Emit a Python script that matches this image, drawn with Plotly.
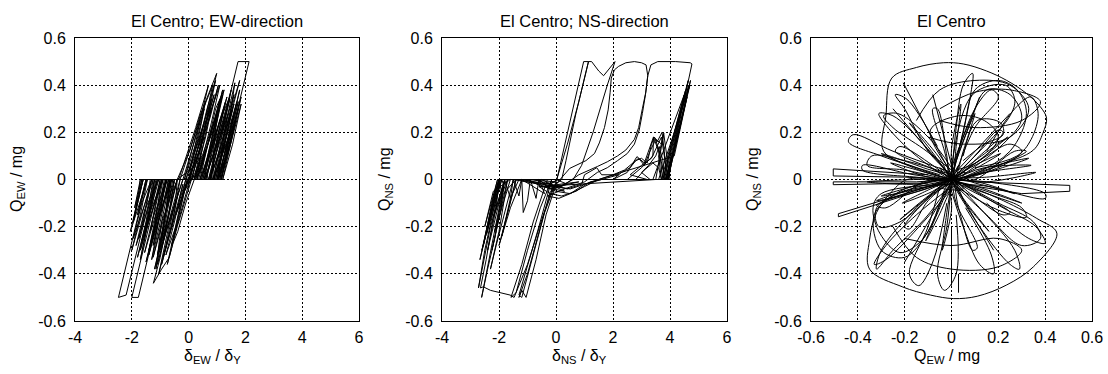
import plotly.graph_objects as go

FONT = "Liberation Sans, Arial, Helvetica, sans-serif"

# ---------------- tick labels ----------------
disp_ticks = [-4, -2, 0, 2, 4, 6]
disp_ticktext = ["-4", "-2", "0", "2", "4", "6"]
q_ticks = [-0.6, -0.4, -0.2, 0, 0.2, 0.4, 0.6]
q_ticktext = ["-0.6", "-0.4", "-0.2", "0", "0.2", "0.4", "0.6"]

# ---------------- panel 1 : EW direction (delta/deltaY, Q/mg) ----------------
ew_origin = [(0.00, 0.00), (0.40, 0.13), (-0.30, -0.10), (0.55, 0.18), (-0.45, -0.15),
             (0.30, 0.10), (-0.20, -0.07), (0.15, 0.05)]
ew_cycle_1 = [(-0.40, 0.00), (0.05, 0.125), (0.40, 0.27), (0.75, 0.38), (0.99, 0.45),
              (0.70, 0.30), (0.35, 0.10), (0.20, 0.00), (-0.10, -0.10), (-0.38, -0.22),
              (-0.55, -0.27), (-0.68, -0.33), (-0.95, -0.38), (-1.24, -0.44), (-1.00, -0.33),
              (-0.70, -0.15), (-0.50, 0.00)]
ew_up_band = [(-0.35, 0.00), (0.25, 0.22), (0.70, 0.40), (0.40, 0.25), (0.00, 0.00),
              (0.90, 0.36), (0.55, 0.20), (0.10, 0.00), (1.05, 0.40), (0.75, 0.26), (-0.10, 0.00),
              (0.80, 0.34), (0.50, 0.18), (0.30, 0.00), (1.20, 0.36), (0.90, 0.22), (0.20, 0.00),
              (1.10, 0.32), (0.80, 0.16), (0.45, 0.00), (1.35, 0.35), (1.05, 0.20), (0.40, 0.00),
              (1.25, 0.30), (0.95, 0.14), (0.60, 0.00), (1.45, 0.34), (1.15, 0.19), (0.55, 0.00),
              (1.40, 0.28), (1.10, 0.12), (0.75, 0.00), (1.55, 0.30), (1.25, 0.15), (0.70, 0.00),
              (1.60, 0.36), (1.30, 0.20), (0.90, 0.00), (1.70, 0.33), (1.40, 0.18), (0.85, 0.00),
              (1.65, 0.25), (1.35, 0.10), (1.00, 0.00), (1.75, 0.30), (1.45, 0.14), (1.05, 0.00),
              (1.80, 0.38), (1.50, 0.22), (1.15, 0.00), (1.85, 0.32), (1.55, 0.15), (1.20, 0.00)]
ew_up_band_2 = [(-0.30, 0.00), (0.20, 0.18), (0.60, 0.33), (0.30, 0.17), (-0.15, 0.00),
                (0.45, 0.28), (0.85, 0.40), (0.55, 0.24), (0.05, 0.00), (0.65, 0.30),
                (0.95, 0.42), (0.70, 0.28), (0.15, 0.02), (0.25, 0.00), (0.75, 0.28),
                (1.10, 0.40), (0.80, 0.24), (0.35, 0.02), (-0.20, 0.00), (0.30, 0.20),
                (0.55, 0.30), (0.35, 0.18), (0.00, 0.03), (0.50, 0.22), (0.80, 0.30),
                (0.60, 0.18), (0.20, 0.00)]
ew_low_band = [(0.10, 0.00), (-0.40, -0.20), (-0.75, -0.36), (-0.45, -0.20), (-0.10, 0.00),
               (-0.90, -0.33), (-0.55, -0.17), (-0.30, 0.00), (-1.10, -0.36), (-0.75, -0.20),
               (-0.20, 0.00), (-1.00, -0.30), (-0.70, -0.15), (-0.50, 0.00), (-1.25, -0.33),
               (-0.95, -0.18), (-0.40, 0.00), (-1.20, -0.38), (-0.90, -0.22), (-0.65, 0.00),
               (-1.40, -0.32), (-1.10, -0.17), (-0.60, 0.00), (-1.35, -0.28), (-1.05, -0.13),
               (-0.80, 0.00), (-1.55, -0.31), (-1.25, -0.16), (-0.75, 0.00), (-1.50, -0.35),
               (-1.20, -0.20), (-0.95, 0.00), (-1.70, -0.30), (-1.40, -0.15), (-0.90, 0.00),
               (-1.65, -0.26), (-1.35, -0.11), (-1.10, 0.00), (-1.85, -0.28), (-1.55, -0.13),
               (-1.05, 0.00), (-1.80, -0.33), (-1.50, -0.18), (-1.25, 0.00), (-1.95, -0.25),
               (-1.65, -0.10), (-1.30, 0.00), (-2.00, -0.30), (-1.70, -0.15), (-1.45, 0.00),
               (-2.05, -0.22), (-1.80, -0.09), (-1.60, 0.00), (-1.95, -0.18), (-1.75, -0.05),
               (-1.70, 0.00)]
ew_low_band_2 = [(0.05, 0.00), (-0.30, -0.15), (-0.60, -0.28), (-0.35, -0.16), (-0.05, 0.00),
                 (-0.45, -0.20), (-0.80, -0.32), (-0.50, -0.18), (-0.20, -0.02), (-0.55, -0.18),
                 (-0.95, -0.36), (-0.65, -0.22), (-0.35, -0.05), (-0.70, -0.20), (-1.05, -0.40),
                 (-0.80, -0.28), (-0.45, -0.08), (-0.40, 0.00)]
ew_pos_a = [(0.55, 0.00), (1.15, 0.34), (1.05, 0.28), (0.70, 0.05), (0.65, 0.00), (0.40, 0.00),
            (0.95, 0.30), (1.25, 0.38), (0.95, 0.22), (0.80, 0.00), (0.50, 0.00), (1.30, 0.33),
            (0.90, 0.12), (0.85, 0.00), (1.00, 0.00), (1.40, 0.22), (1.63, 0.41), (1.35, 0.26),
            (1.05, 0.05), (1.00, 0.00)]
ew_neg_a = [(-0.55, 0.00), (-0.85, -0.18), (-1.10, -0.32), (-0.85, -0.20), (-0.60, -0.04),
            (-0.80, 0.00), (-1.10, -0.20), (-1.30, -0.34), (-1.00, -0.18), (-0.75, -0.02),
            (-0.70, 0.00), (-1.00, 0.00), (-1.35, -0.22), (-1.10, -0.08), (-0.95, 0.00),
            (-1.20, 0.00), (-1.55, -0.24), (-1.25, -0.06), (-1.20, 0.00)]
ew_pos_b = [(0.60, 0.00), (1.10, 0.25), (1.45, 0.35), (1.20, 0.22), (0.80, 0.02), (0.75, 0.00),
            (0.95, 0.00), (1.50, 0.30), (1.80, 0.42), (1.50, 0.28), (1.10, 0.06), (1.05, 0.00),
            (1.20, 0.00), (1.60, 0.22), (1.85, 0.35), (1.45, 0.16), (1.15, 0.00)]
ew_big_neg_1 = [(-1.20, 0.00), (-1.70, -0.25), (-2.20, -0.49), (-2.47, -0.50), (-1.97, -0.25),
                (-1.47, 0.00), (-1.60, 0.00), (-1.95, -0.18), (-1.70, -0.04), (-1.65, 0.00)]
ew_big_pos = [(0.74, 0.00), (1.24, 0.25), (1.74, 0.50), (2.13, 0.50), (1.63, 0.25), (1.13, 0.00)]
ew_big_neg_2 = [(-1.00, 0.00), (-1.50, -0.25), (-2.00, -0.50), (-1.77, -0.50), (-1.27, -0.25),
                (-0.77, 0.00), (-0.90, 0.00), (-1.15, -0.15), (-1.40, -0.30), (-1.05, -0.12),
                (-0.85, 0.00)]
ew_pos_c = [(0.30, 0.00), (0.75, 0.18), (1.10, 0.34), (0.85, 0.20), (0.55, 0.02), (0.50, 0.00),
            (0.70, 0.00), (1.20, 0.25), (1.50, 0.38), (1.30, 0.26), (0.95, 0.05), (0.90, 0.00),
            (1.10, 0.00), (1.55, 0.24), (1.75, 0.33), (1.40, 0.15), (1.15, 0.00)]
ew_neg_c = [(-0.40, 0.00), (-0.70, -0.15), (-0.90, -0.26), (-0.70, -0.14), (-0.45, -0.02),
            (-0.60, 0.00), (-0.90, -0.20), (-1.05, -0.30), (-0.80, -0.12), (-0.60, 0.00),
            (-0.70, 0.00), (-1.00, -0.15), (-1.25, -0.28), (-1.00, -0.14), (-0.80, 0.00),
            (-1.30, 0.00), (-1.60, -0.18), (-1.75, -0.25), (-1.45, -0.08), (-1.35, 0.00)]
ew_pos_d = [(0.35, 0.00), (0.80, 0.20), (1.20, 0.38), (0.90, 0.22), (0.60, 0.03), (0.55, 0.00),
            (0.85, 0.00), (1.30, 0.22), (1.60, 0.32), (1.35, 0.20), (1.00, 0.02), (0.95, 0.00),
            (1.05, 0.00), (1.55, 0.26), (1.25, 0.10), (1.10, 0.00)]
ew_neg_d = [(-0.65, 0.00), (-0.95, -0.18), (-1.15, -0.38), (-0.95, -0.26), (-0.70, -0.06),
            (-0.65, 0.00), (-1.10, 0.00), (-1.45, -0.20), (-1.70, -0.34), (-1.40, -0.16),
            (-1.15, 0.00), (-1.50, 0.00), (-1.80, -0.15), (-1.55, -0.03), (-1.50, 0.00),
            (-1.70, 0.00), (-1.90, -0.12), (-1.65, 0.00)]
ew_decay = [(0.25, 0.00), (0.60, 0.12), (0.40, 0.03), (-0.10, -0.02), (-0.35, -0.12),
            (0.10, 0.04), (0.45, 0.10), (0.20, 0.02), (-0.20, -0.06), (0.05, 0.01)]

# ---------------- panel 2 : NS direction ----------------
ns_start = [(0.00, 0.00), (0.40, -0.02), (-0.30, -0.04), (0.80, -0.01), (-0.50, -0.03),
            (0.30, -0.05), (-0.20, -0.02)]
ns_neg_1 = [(-0.80, 0.00), (-1.50, 0.00), (-2.00, 0.00), (-2.35, -0.18), (-2.67, -0.34),
            (-2.45, -0.22), (-2.10, -0.04), (-2.00, 0.00)]
ns_pos_1 = [(-0.60, 0.00), (-0.30, -0.03), (0.03, 0.00), (0.50, 0.25), (0.97, 0.50),
            (1.14, 0.50), (0.70, 0.28), (0.35, 0.08), (0.20, 0.00)]
ns_neg_2 = [(-0.10, -0.03), (-0.50, -0.17), (-1.00, -0.36), (-1.47, -0.50), (-1.61, -0.49),
            (-2.00, -0.48), (-2.30, -0.47), (-2.55, -0.455), (-2.65, -0.46), (-2.45, -0.34),
            (-2.20, -0.16), (-1.95, 0.00)]
ns_comb = [(-2.00, 0.00), (-1.90, -0.06), (-1.80, 0.00), (-1.60, -0.08), (-1.50, 0.00),
           (-1.30, -0.07), (-1.20, 0.00), (-1.15, -0.14), (-1.00, -0.09), (-0.90, 0.00),
           (-0.70, -0.08), (-0.60, 0.00), (-0.40, -0.06)]
ns_pos_2 = [(-1.20, 0.00), (-0.40, -0.02), (0.00, -0.01), (0.40, 0.15), (0.80, 0.33),
            (1.14, 0.50), (1.25, 0.50), (1.50, 0.46), (1.67, 0.44), (2.07, 0.50), (1.80, 0.40),
            (1.30, 0.20), (0.90, 0.06), (0.74, 0.03), (0.60, 0.00)]
ns_neg_3 = [(-0.20, -0.05), (-0.60, -0.22), (-1.00, -0.40), (-1.30, -0.50), (-1.20, -0.47),
            (-1.05, -0.50), (-0.70, -0.34), (-0.35, -0.15), (0.00, -0.02)]
ns_loop_1 = [(0.48, 0.047), (1.05, 0.08), (1.35, 0.11), (1.52, 0.155), (1.70, 0.22),
             (1.83, 0.295), (1.90, 0.37), (1.94, 0.43), (2.05, 0.465), (2.20, 0.48),
             (2.45, 0.495), (2.75, 0.50), (3.00, 0.495), (3.16, 0.486), (3.22, 0.44),
             (3.15, 0.37), (3.03, 0.30), (2.90, 0.22), (2.75, 0.17), (2.45, 0.125),
             (2.16, 0.10), (1.80, 0.075), (1.45, 0.055), (0.80, 0.02), (0.20, -0.03)]
ns_neg_4 = [(-0.50, -0.03), (-1.00, 0.00), (-1.70, 0.00), (-2.20, -0.16), (-1.85, -0.02),
            (-1.90, 0.00), (-2.43, -0.23), (-2.05, -0.03), (-1.95, 0.00), (-2.60, -0.30),
            (-2.20, -0.08), (-2.00, 0.00), (-1.80, 0.00), (-2.30, -0.20), (-2.72, -0.46),
            (-2.50, -0.30), (-2.05, -0.05), (-1.90, 0.00)]
ns_left_fan = [(-1.50, 0.00), (-2.10, -0.28), (-2.30, -0.38), (-2.00, -0.22), (-1.70, 0.00),
               (-2.25, -0.30), (-1.95, -0.14), (-1.80, 0.00), (-2.40, -0.30), (-2.10, -0.12),
               (-2.00, 0.00), (-2.55, -0.28), (-2.25, -0.10), (-2.05, 0.00), (-2.50, -0.20),
               (-2.20, -0.05), (-1.60, 0.00), (-2.15, -0.22), (-1.85, -0.06), (-1.40, 0.00),
               (-1.90, -0.24), (-1.60, -0.08), (-1.30, 0.00)]
ns_low_lines = [(-0.30, 0.00), (-0.80, -0.18), (-1.20, -0.36), (-1.58, -0.50), (-1.40, -0.48),
                (-1.00, -0.30), (-0.55, -0.12), (-0.15, 0.00), (-0.60, -0.20), (-1.10, -0.40),
                (-1.30, -0.49), (-1.20, -0.50), (-0.80, -0.32), (-0.40, -0.14), (0.00, -0.01),
                (-1.00, 0.00), (-1.80, 0.00), (-2.61, -0.50), (-2.40, -0.38), (-2.15, -0.25),
                (-1.95, -0.10), (-1.80, 0.00)]
ns_band = [(-1.50, 0.00), (-0.60, -0.02), (0.00, -0.05), (0.50, -0.06), (1.00, -0.03),
           (1.50, 0.00), (2.50, 0.00), (3.00, 0.05), (3.40, 0.10), (3.42, 0.18), (3.60, 0.12),
           (3.85, 0.00)]
ns_band_2 = [(-0.50, 0.00), (0.00, -0.03), (0.40, -0.04), (0.90, -0.02), (1.00, 0.02),
             (1.43, 0.05), (1.60, 0.02), (1.80, 0.02), (2.20, 0.02), (1.60, 0.00), (1.20, -0.01),
             (0.70, -0.05), (0.20, -0.07), (-0.20, -0.06), (-0.60, -0.03)]
ns_loop_2 = [(3.50, 0.00), (2.50, 0.00), (1.60, 0.00), (1.00, -0.02), (0.50, -0.06),
             (0.10, -0.08), (-0.30, -0.07), (0.30, -0.04), (1.00, -0.01), (1.45, 0.03),
             (1.80, 0.05), (2.16, 0.08), (2.50, 0.11), (2.75, 0.15), (2.92, 0.21), (3.03, 0.28),
             (3.14, 0.36), (3.22, 0.44), (3.33, 0.486), (3.57, 0.50), (4.20, 0.50),
             (4.71, 0.495), (4.77, 0.49), (4.40, 0.28), (4.10, 0.12), (3.89, 0.00)]
ns_right_fan = [(3.50, 0.00), (3.78, 0.195), (3.60, 0.10), (3.70, 0.00), (4.64, 0.42),
                (4.20, 0.18), (3.95, 0.00), (3.80, 0.00), (4.55, 0.38), (4.10, 0.14),
                (3.85, 0.00), (3.60, 0.00), (4.70, 0.40), (4.25, 0.18), (3.90, 0.00),
                (2.00, 0.00), (2.50, 0.03), (2.84, 0.097), (3.10, 0.07), (3.42, 0.18),
                (3.70, 0.15), (3.78, 0.195), (3.90, 0.10), (4.00, 0.00)]
ns_right_fan_2 = [(3.40, 0.00), (4.00, 0.20), (4.50, 0.36), (4.20, 0.22), (3.75, 0.00),
                  (4.30, 0.25), (4.66, 0.40), (4.30, 0.20), (3.85, 0.00), (4.40, 0.26),
                  (4.72, 0.42), (4.35, 0.22), (3.92, 0.00), (4.00, 0.05), (4.60, 0.35),
                  (4.15, 0.10)]
ns_bumps = [(1.50, 0.00), (2.00, 0.02), (2.40, 0.04), (2.70, 0.07), (2.90, 0.09), (3.10, 0.06),
            (3.30, 0.12), (3.50, 0.17), (3.65, 0.10), (3.75, 0.00), (3.20, 0.00), (2.60, 0.02),
            (3.00, 0.06), (3.35, 0.09), (3.55, 0.14), (3.70, 0.18), (3.85, 0.06), (3.95, 0.00)]
ns_bumps_2 = [(2.00, 0.00), (2.30, 0.03), (2.60, 0.05), (2.80, 0.08), (3.00, 0.09), (3.20, 0.07),
              (3.35, 0.15), (3.45, 0.18), (3.55, 0.16), (3.65, 0.18), (3.72, 0.20), (3.80, 0.12),
              (3.88, 0.00), (3.30, 0.00), (3.00, 0.03), (3.25, 0.06), (3.50, 0.10), (3.62, 0.14),
              (3.75, 0.08), (3.80, 0.00), (2.80, 0.00), (3.10, 0.04), (3.40, 0.07), (3.60, 0.05),
              (3.70, 0.00)]
ns_end = [(1.50, 0.00), (0.50, -0.04), (-0.50, -0.02), (-1.40, 0.00), (-2.00, -0.28),
          (-1.60, -0.12), (-1.20, 0.00), (-0.30, -0.02), (0.20, -0.03)]

# ---------------- panel 3 : Q_EW vs Q_NS ----------------
bi_star = [(0.00, 0.00), (0.15, 0.05), (0.33, 0.09), (0.15, 0.03), (0.01, 0.00),
           (-0.14, -0.04), (-0.30, -0.07), (-0.13, -0.02), (0.00, 0.01),
           (0.10, 0.08), (0.24, 0.18), (0.09, 0.06), (0.00, 0.00),
           (-0.10, -0.07), (-0.22, -0.17), (-0.08, -0.06), (0.01, 0.00),
           (0.05, 0.12), (0.10, 0.28), (0.03, 0.11), (0.00, 0.00),
           (-0.05, -0.12), (-0.11, -0.26), (-0.03, -0.10), (0.00, 0.00),
           (-0.12, 0.05), (-0.30, 0.11), (-0.11, 0.03), (0.00, 0.00),
           (0.12, -0.04), (0.30, -0.10), (0.11, -0.03), (0.00, 0.00),
           (0.15, 0.01), (0.36, 0.03), (0.15, -0.01), (0.00, 0.00),
           (-0.15, 0.00), (-0.36, -0.01), (-0.15, -0.02), (0.00, 0.00),
           (0.06, -0.10), (0.16, -0.22), (0.05, -0.08), (0.00, 0.00),
           (-0.07, 0.10), (-0.18, 0.24), (-0.05, 0.09), (0.00, 0.00),
           (0.02, 0.14), (0.04, 0.32), (0.00, 0.13), (0.00, 0.00),
           (-0.02, -0.14), (-0.04, -0.30), (0.00, -0.13), (0.00, 0.00),
           (0.12, -0.02), (0.27, -0.06), (0.11, -0.01), (0.00, 0.00),
           (-0.11, 0.03), (-0.26, 0.07), (-0.10, 0.01), (0.00, 0.00),
           (0.14, 0.03), (0.34, 0.06), (0.14, 0.05), (0.00, 0.00),
           (-0.14, -0.03), (-0.32, -0.09), (-0.14, -0.05), (0.00, 0.00),
           (0.09, 0.04), (0.21, 0.11), (0.08, 0.05), (0.00, 0.00),
           (-0.09, -0.04), (-0.21, -0.10), (-0.08, -0.05), (0.00, 0.00),
           (0.10, 0.00), (0.27, 0.12), (0.32, 0.12), (0.10, 0.02), (0.00, 0.00),
           (-0.12, -0.01), (-0.28, -0.12), (-0.32, -0.11), (-0.10, -0.03), (0.00, 0.00),
           (0.08, -0.06), (0.22, -0.15), (0.25, -0.14), (0.07, -0.04), (0.00, 0.00),
           (-0.08, 0.06), (-0.22, 0.14), (-0.24, 0.12), (-0.07, 0.04), (0.00, 0.00),
           (0.03, -0.12), (0.09, -0.30), (0.11, -0.29), (0.02, -0.10), (0.00, 0.00),
           (-0.03, 0.12), (-0.08, 0.30), (-0.06, 0.30), (-0.02, 0.10), (0.00, 0.00),
           (0.16, -0.03), (0.40, -0.08), (0.40, -0.06), (0.15, -0.01), (0.00, 0.00),
           (-0.16, 0.02), (-0.38, 0.06), (-0.38, 0.04), (-0.15, 0.01), (0.00, 0.00),
           (0.12, 0.10), (0.22, 0.20), (0.20, 0.21), (0.10, 0.10), (0.00, 0.00),
           (-0.12, -0.10), (-0.20, -0.20), (-0.18, -0.21), (-0.10, -0.09), (0.00, 0.00),
           (0.03, 0.06), (-0.04, -0.07), (0.06, 0.03), (-0.06, -0.03), (0.05, -0.04),
           (-0.05, 0.05), (0.00, 0.00)]
bi_outer_top = [(0.00, 0.00), (-0.15, 0.05), (-0.29, 0.12), (-0.28, 0.27), (-0.255, 0.43),
                (-0.15, 0.475), (-0.035, 0.495), (0.05, 0.49), (0.15, 0.46), (0.236, 0.42),
                (0.32, 0.365), (0.378, 0.31), (0.406, 0.26), (0.39, 0.196), (0.35, 0.125),
                (0.20, 0.06), (0.02, 0.00)]
bi_outer_bottom = [(-0.05, 0.00), (-0.19, 0.00), (-0.263, -0.06), (-0.32, -0.14),
                   (-0.35, -0.256), (-0.35, -0.38), (-0.21, -0.455), (-0.09, -0.49),
                   (0.01, -0.505), (0.11, -0.495), (0.236, -0.447), (0.35, -0.37),
                   (0.45, -0.228), (0.364, -0.165), (0.20, -0.08), (0.00, 0.00)]
bi_loops = [
    [(0.00, 0.00), (-0.12, 0.15), (-0.25, 0.27), (-0.31, 0.28), (-0.28, 0.23), (-0.15, 0.10), (0.00, 0.00)],
    [(0.00, 0.03), (-0.25, 0.12), (-0.42, 0.19), (-0.44, 0.16), (-0.30, 0.10), (-0.05, 0.02)],
    [(0.00, 0.05), (0.08, 0.25), (0.15, 0.38), (0.25, 0.36), (0.30, 0.26), (0.22, 0.15), (0.05, 0.02)],
    [(0.00, 0.00), (0.05, 0.20), (0.10, 0.38), (0.20, 0.42), (0.28, 0.38), (0.32, 0.28), (0.25, 0.12), (0.05, 0.00)],
    [(0.00, 0.00), (0.15, 0.10), (0.25, 0.15), (0.30, 0.12), (0.22, 0.06), (0.05, 0.00)],
    [(0.00, 0.00), (0.12, -0.20), (0.25, -0.36), (0.29, -0.38), (0.27, -0.30), (0.12, -0.12), (0.00, 0.00)],
    [(0.00, 0.00), (0.20, -0.10), (0.35, -0.18), (0.38, -0.25), (0.30, -0.28), (0.15, -0.15), (0.00, 0.00)],
    [(0.00, 0.00), (-0.10, -0.15), (-0.25, -0.30), (-0.32, -0.38), (-0.30, -0.30), (-0.15, -0.12), (0.00, 0.00)],
    [(0.00, -0.02), (-0.30, -0.06), (-0.335, -0.12), (-0.305, -0.23), (-0.22, -0.31), (-0.12, -0.25), (-0.05, -0.10)],
    [(0.00, 0.00), (-0.02, -0.20), (-0.06, -0.40), (-0.03, -0.47), (0.02, -0.40), (0.02, -0.15)],
    [(0.00, 0.00), (0.02, 0.22), (0.05, 0.40), (0.09, 0.45), (0.08, 0.35), (0.03, 0.12)],
    [(-0.25, -0.20), (-0.15, -0.33), (0.00, -0.38), (0.20, -0.37), (0.30, -0.30), (0.20, -0.25), (0.00, -0.28), (-0.20, -0.25)],
    [(-0.05, 0.30), (0.10, 0.37), (0.25, 0.38), (0.38, 0.33), (0.30, 0.25), (0.10, 0.22), (-0.05, 0.25)],
    [(0.00, 0.05), (-0.10, 0.18), (-0.23, 0.28), (-0.29, 0.27), (-0.25, 0.22), (-0.12, 0.13), (0.00, 0.04)],
    [(-0.02, 0.06), (-0.09, 0.21), (0.03, 0.27), (0.14, 0.25), (0.20, 0.18), (0.12, 0.08), (0.02, 0.04)],
    [(0.05, 0.10), (0.11, 0.25), (0.21, 0.24), (0.22, 0.19), (0.14, 0.15), (0.05, 0.08)],
    [(0.00, 0.05), (0.09, 0.36), (0.23, 0.40), (0.27, 0.34), (0.25, 0.27), (0.10, 0.10)],
    [(0.10, 0.05), (0.28, 0.10), (0.34, 0.17), (0.37, 0.28), (0.34, 0.35), (0.27, 0.30), (0.15, 0.12)],
    [(0.00, -0.03), (-0.15, -0.15), (-0.28, -0.28), (-0.33, -0.36), (-0.28, -0.34), (-0.12, -0.18), (0.00, -0.04)],
    [(0.00, -0.02), (-0.20, -0.05), (-0.32, -0.12), (-0.31, -0.20), (-0.22, -0.18), (-0.08, -0.06)],
    [(0.00, -0.05), (0.05, -0.20), (0.12, -0.36), (0.18, -0.40), (0.17, -0.32), (0.06, -0.12)],
    [(0.05, -0.02), (0.22, -0.12), (0.36, -0.20), (0.40, -0.27), (0.33, -0.25), (0.15, -0.10)],
    [(-0.05, -0.03), (-0.10, -0.20), (-0.18, -0.40), (-0.14, -0.45), (-0.08, -0.35), (-0.02, -0.10)],
    [(0.02, 0.03), (0.10, 0.22), (0.20, 0.35), (0.17, 0.38), (0.10, 0.30), (0.01, 0.06)],
    [(0.02, 0.00), (-0.10, 0.12), (-0.20, 0.30), (-0.24, 0.36), (-0.19, 0.34), (-0.06, 0.14)],
    [(0.00, 0.02), (-0.20, 0.08), (-0.34, 0.10), (-0.36, 0.06), (-0.20, 0.04), (-0.02, 0.00)],
    [(0.00, -0.01), (0.18, -0.07), (0.30, -0.12), (0.32, -0.16), (0.20, -0.13), (0.02, -0.03)],
    [(-0.05, 0.00), (-0.22, -0.05), (-0.33, -0.15), (-0.30, -0.30), (-0.20, -0.33), (-0.10, -0.22), (-0.03, -0.05)],
    [(-0.15, 0.25), (-0.05, 0.38), (0.10, 0.42), (0.25, 0.40), (0.33, 0.30), (0.25, 0.18), (0.05, 0.15), (-0.10, 0.18)],
]
bi_flag_left = [(-0.10, 0.02), (-0.505, 0.045), (-0.505, 0.015), (-0.20, 0.01), (0.00, 0.00),
                (-0.15, -0.01), (-0.505, -0.01), (-0.505, -0.022), (-0.10, -0.015)]
bi_flag_diag = [(0.00, 0.00), (-0.483, -0.145), (-0.483, -0.158), (-0.05, -0.02)]
bi_flag_right = [(0.10, -0.01), (0.505, -0.025), (0.505, -0.05), (0.30, -0.06), (0.05, -0.02)]
bi_lines = [[(-0.206, 0.41), (0.02, -0.02)], [(0.12, 0.35), (-0.02, -0.03)],
            [(0.03, -0.48), (0.03, -0.40)], [(-0.25, 0.30), (0.05, -0.05)],
            [(0.25, 0.28), (-0.03, -0.02)], [(0.00, -0.45), (0.00, -0.20)],
            [(-0.08, 0.36), (0.03, -0.05)], [(0.18, -0.30), (-0.02, 0.03)],
            [(-0.20, -0.35), (0.02, 0.02)], [(0.12, 0.12), (-0.02, -0.02)]]


def join(*segments):
    xs, ys = [], []
    for seg in segments:
        for x, y in seg:
            xs.append(x)
            ys.append(y)
    return xs, ys


def join_gaps(*segments):
    xs, ys = [], []
    for seg in segments:
        for x, y in seg:
            xs.append(x)
            ys.append(y)
        xs.append(None)
        ys.append(None)
    return xs, ys


ew_x, ew_q = join(ew_origin, ew_cycle_1, ew_up_band, ew_up_band_2, ew_low_band, ew_low_band_2,
                  ew_pos_a, ew_neg_a, ew_pos_b, ew_big_neg_1, ew_big_pos, ew_big_neg_2, ew_pos_c,
                  ew_neg_c, ew_pos_d, ew_neg_d, ew_decay)
ns_x, ns_q = join(ns_start, ns_neg_1, ns_pos_1, ns_neg_2, ns_comb, ns_pos_2, ns_neg_3, ns_loop_1,
                  ns_neg_4, ns_left_fan, ns_low_lines, ns_band, ns_band_2, ns_loop_2,
                  ns_right_fan, ns_right_fan_2, ns_bumps, ns_bumps_2, ns_end)
bi_sx, bi_sy = join_gaps(bi_star, bi_outer_top, bi_outer_bottom, *bi_loops)
bi_lx, bi_ly = join_gaps(bi_flag_left, bi_flag_diag, bi_flag_right, *bi_lines)

fig = go.Figure()
line = dict(color="black", width=1)
fig.add_trace(go.Scatter(x=ew_x, y=ew_q, mode="lines", line=line, xaxis="x", yaxis="y",
                         hoverinfo="skip"))
fig.add_trace(go.Scatter(x=ns_x, y=ns_q, mode="lines", line=line, xaxis="x2", yaxis="y2",
                         hoverinfo="skip"))
fig.add_trace(go.Scatter(x=bi_sx, y=bi_sy, mode="lines",
                         line=dict(color="black", width=1, shape="spline", smoothing=1.0),
                         xaxis="x3", yaxis="y3", hoverinfo="skip", connectgaps=False))
fig.add_trace(go.Scatter(x=bi_lx, y=bi_ly, mode="lines", line=line, xaxis="x3", yaxis="y3",
                         hoverinfo="skip", connectgaps=False))

W, H = 1108, 374
top_px, bot_px = 38, 321
ydom = [1 - bot_px / H, 1 - top_px / H]
panels = [(75, 359), (442, 727), (811, 1092)]
axis_common = dict(showgrid=True, gridcolor="black", gridwidth=1, griddash="2px,2px",
                   zeroline=False, showline=True, linecolor="black", linewidth=1, mirror=True,
                   ticks="outside", tickcolor="rgba(0,0,0,0)", automargin=False,
                   tickfont=dict(size=16, family=FONT, color="black"), fixedrange=True)

layout = dict(width=W, height=H, margin=dict(l=0, r=0, t=0, b=0, pad=0, autoexpand=False),
              showlegend=False, plot_bgcolor="white", paper_bgcolor="white", hovermode=False)
for i, (l, r) in enumerate(panels):
    sfx = "" if i == 0 else str(i + 1)
    if i < 2:
        xa = dict(range=[-4, 6], tickvals=disp_ticks, ticktext=disp_ticktext)
    else:
        xa = dict(range=[-0.6, 0.6], tickvals=q_ticks, ticktext=q_ticktext)
    xa.update(axis_common)
    xa.update(domain=[l / W, r / W], anchor="y" + sfx, ticklen=2)
    ya = dict(range=[-0.6, 0.6], tickvals=q_ticks, ticktext=q_ticktext)
    ya.update(axis_common)
    ya.update(domain=ydom, anchor="x" + sfx, ticklen=5)
    layout["xaxis" + sfx] = xa
    layout["yaxis" + sfx] = ya

titles = ["El Centro; EW-direction", "El Centro; NS-direction", "El Centro"]
xtitles = ["δ<sub>EW</sub> / δ<sub>Y</sub>", "δ<sub>NS</sub> / δ<sub>Y</sub>", "Q<sub>EW</sub> / mg"]
ytitles = ["Q<sub>EW</sub> / mg", "Q<sub>NS</sub> / mg", "Q<sub>NS</sub> / mg"]
ytitle_px = [17, 385, 753]
ann = []
for i, (l, r) in enumerate(panels):
    cx = (l + r) / 2
    ann.append(dict(text=titles[i], x=cx / W, y=1 - 21 / H, xref="paper", yref="paper",
                    showarrow=False, xanchor="center", yanchor="middle",
                    font=dict(size=16.5, family=FONT, color="black")))
    ann.append(dict(text=xtitles[i], x=(cx - 5) / W, y=1 - 356 / H, xref="paper", yref="paper",
                    showarrow=False, xanchor="center", yanchor="middle",
                    font=dict(size=16, family=FONT, color="black")))
    ann.append(dict(text=ytitles[i], x=ytitle_px[i] / W, y=1 - 179 / H, xref="paper",
                    yref="paper", showarrow=False, xanchor="center", yanchor="middle",
                    textangle=-90, font=dict(size=16, family=FONT, color="black")))
layout["annotations"] = ann
fig.update_layout(**layout)
fig.write_html("out.html", config={"displayModeBar": False, "staticPlot": True},
               post_script="document.body.style.margin='0';document.body.style.overflow='hidden';")
